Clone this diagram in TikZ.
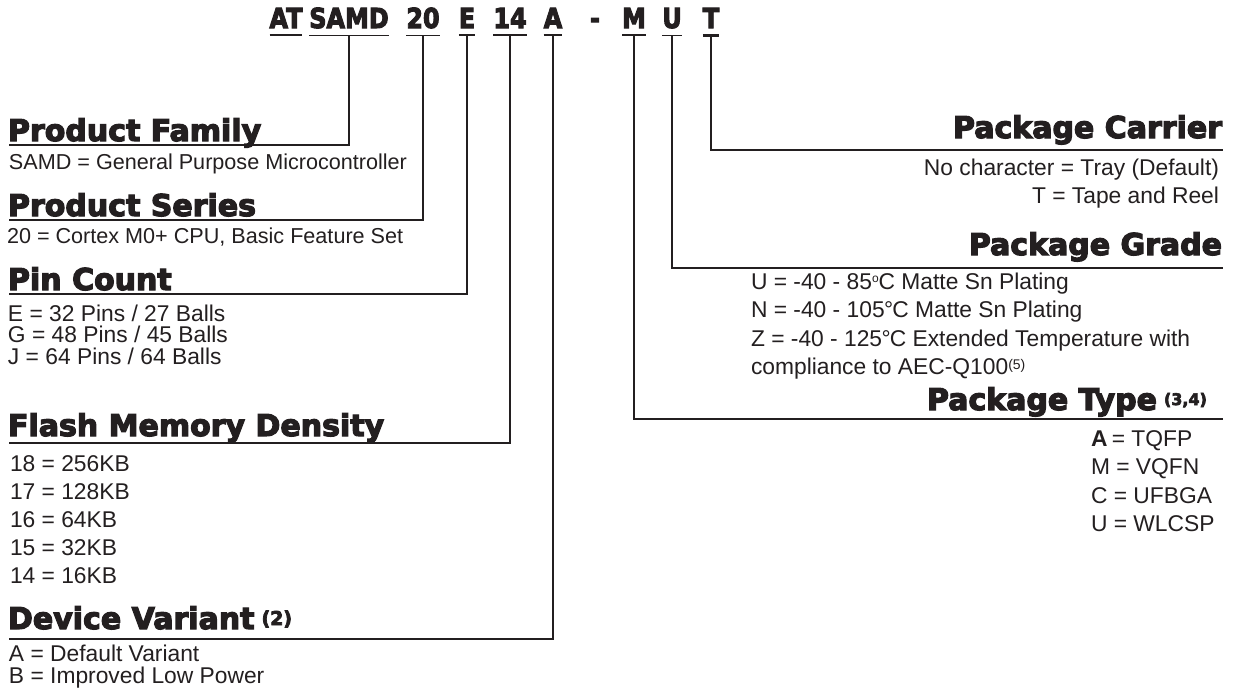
\documentclass[tikz,border=0pt]{standalone}
\usepackage{graphicx}
\usepackage{fontspec}
\setmainfont{Liberation Sans}
\newfontfamily\hfont{DejaVu Sans}[UprightFont={DejaVu Sans Bold}, UprightFeatures={FakeBold=4}]
\definecolor{ink}{HTML}{231F20}
\newcommand{\cx}[1]{\scalebox{0.87}[1]{#1}}
\begin{document}
\begin{tikzpicture}[x=1pt,y=-1pt,
  body/.style={inner sep=0pt, outer sep=0pt, text=ink, font=\fontsize{22.8}{24}\selectfont},
  bodys/.style={inner sep=0pt, outer sep=0pt, text=ink, font=\fontsize{21.6}{23}\selectfont},
  head/.style={inner sep=0pt, outer sep=0pt, text=ink, font=\hfont\fontsize{30}{32}\selectfont},
  code/.style={inner sep=0pt, outer sep=0pt, text=ink, font=\hfont\fontsize{27.5}{28}\selectfont, anchor=base},
  conn/.style={draw=ink, line width=1.9pt},
  uline/.style={draw=ink, line width=1.5pt}]
\useasboundingbox[fill=white] (0,0) rectangle (1234,689);

% ---- part number header ----
\node[code] (cAT)   at (286,28) {\cx{AT}};
\node[code] (cSAMD) at (349,28) {\cx{SAMD}};
\node[code] (c20)   at (423,28) {\cx{20}};
\node[code] (cE)    at (467,28) {\cx{E}};
\node[code] (c14)   at (510,28) {\cx{14}};
\node[code] (cA)    at (553,28) {\cx{A}};
\node[code] (cDash) at (595,28) {\cx{-}};
\node[code] (cM)    at (634,28) {\cx{M}};
\node[code] (cU)    at (672,28) {\cx{U}};
\node[code] (cT)    at (711,28) {\cx{T}};

\foreach \n in {cAT,cSAMD,c20,cE,c14,cA,cM,cU}
  \draw[uline] ([yshift=-7pt]\n.south west) -- ([yshift=-7pt]\n.south east);
\draw[draw=ink, line width=3pt] ([yshift=-7pt]cT.south west) -- ([yshift=-7pt]cT.south east);

% ---- line ends ----
\coordinate (pfL) at (9,145);
\coordinate (psL) at (9,220);
\coordinate (pcL) at (9,294);
\coordinate (fmL) at (9,443);
\coordinate (dvL) at (9,639);
\coordinate (carR) at (1223,150);
\coordinate (grR) at (1223,268);
\coordinate (tyR) at (1223,419);

% ---- connectors ----
\draw[conn] ([yshift=-7pt]cSAMD.south) |- (pfL);
\draw[conn] ([yshift=-7pt]c20.south) |- (psL);
\draw[conn] ([yshift=-7pt]cE.south) |- (pcL);
\draw[conn] ([yshift=-7pt]c14.south) |- (fmL);
\draw[conn] ([yshift=-7pt]cA.south) |- (dvL);
\draw[conn] ([yshift=-7pt]cT.south) |- (carR);
\draw[conn] ([yshift=-7pt]cU.south) |- (grR);
\draw[conn] ([yshift=-7pt]cM.south) |- (tyR);

% ---- left headings and texts ----
\node[head, anchor=base west] (hPF) at (8,141) {Product Family};
\node[bodys, anchor=base west] (tPF) at (9,169) {SAMD = General Purpose Microcontroller};

\node[head, anchor=base west] (hPS) at (8,216) {Product Series};
\node[bodys, anchor=base west] (tPS) at (7,243) {20 = Cortex M0+ CPU, Basic Feature Set};

\node[head, anchor=base west] (hPC) at (8,290) {Pin Count};
\node[body, anchor=base west] (tPC1) at (8,321) {E = 32 Pins / 27 Balls};
\node[body, anchor=base west] (tPC2) at (8,342.5) {G = 48 Pins / 45 Balls};
\node[body, anchor=base west] (tPC3) at (8,364) {J = 64 Pins / 64 Balls};

\node[head, anchor=base west] (hFM) at (8,436) {Flash Memory Density};
\node[body, anchor=base west] (tFM1) at (10,471) {18 = 256KB};
\node[body, anchor=base west] (tFM2) at (10,499) {17 = 128KB};
\node[body, anchor=base west] (tFM3) at (10,527) {16 = 64KB};
\node[body, anchor=base west] (tFM4) at (10,555) {15 = 32KB};
\node[body, anchor=base west] (tFM5) at (10,583) {14 = 16KB};

\node[head, anchor=base west] (hDV) at (8,629) {Device Variant\hspace{7pt}\raisebox{4pt}{\fontsize{19}{20}\selectfont (2)}};
\node[body, anchor=base west] (tDV1) at (9,661) {A = Default Variant};
\node[body, anchor=base west] (tDV2) at (9,683) {B = Improved Low Power};

% ---- right headings and texts ----
\node[head, anchor=base east] (hCar) at (1222,138) {Package Carrier};
\node[body, anchor=base east] (tCar1) at (1219,175) {No character = Tray (Default)};
\node[body, anchor=base east] (tCar2) at (1219,203) {T = Tape and Reel};

\node[head, anchor=base east] (hGr) at (1222,255) {Package Grade};
\node[body, anchor=base west] (tGr1) at (751,289) {U = -40 - 85\raisebox{7pt}{\fontsize{12}{12}\selectfont o}C Matte Sn Plating};
\node[body, anchor=base west] (tGr2) at (751,317.5) {N = -40 - 105\kern-0.5pt°\kern-1pt C Matte Sn Plating};
\node[body, anchor=base west] (tGr3) at (751,346) {Z = -40 - 125\kern-0.5pt°\kern-1pt C Extended Temperature with};
\node[body, anchor=base west] (tGr4) at (751,374.5) {compliance to AEC-Q100\raisebox{5pt}{\fontsize{14}{14}\selectfont (5)}};

\node[head, anchor=base west] (hTy) at (927,410) {Package Type\hspace{7pt}\raisebox{5pt}{\fontsize{16}{16}\selectfont (3,4)}};
\node[body, anchor=base west] (tTy1) at (1091,446) {\textbf{A}\kern-2pt{} = TQFP};
\node[body, anchor=base west] (tTy2) at (1091,474.5) {M = VQFN};
\node[body, anchor=base west] (tTy3) at (1091,503) {C = UFBGA};
\node[body, anchor=base west] (tTy4) at (1091,531.5) {U = WLCSP};
\end{tikzpicture}
\end{document}
